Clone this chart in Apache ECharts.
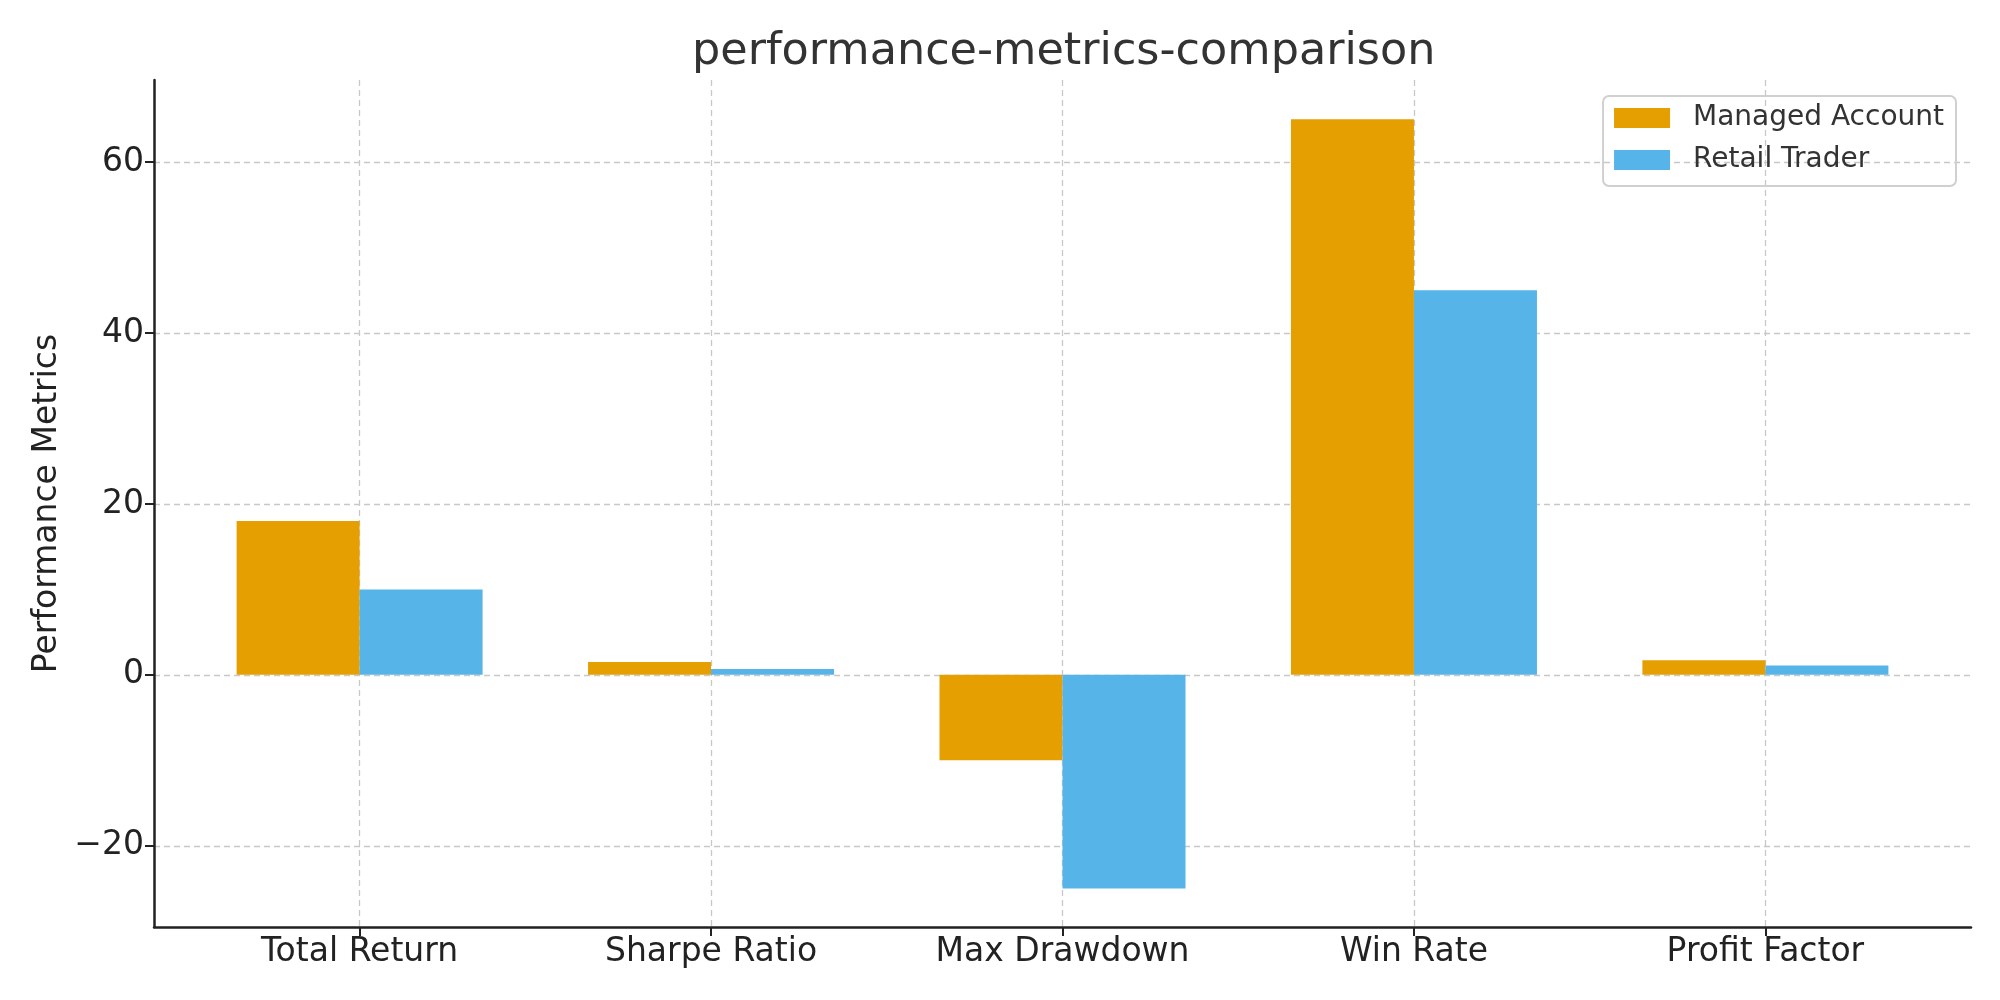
<!DOCTYPE html>
<html><head><meta charset="utf-8">
<script src="https://cdn.jsdelivr.net/npm/echarts@6/dist/echarts.min.js"></script>
<style>html,body{margin:0;padding:0;background:#fff}#c{width:2000px;height:1000px}</style>
</head><body><div id="c"></div>
<script>
const categories = ['Total Return', 'Sharpe Ratio', 'Max Drawdown', 'Win Rate', 'Profit Factor'];
const managedAccount = [18, 1.5, -10, 65, 1.7];
const retailTrader = [10, 0.7, -25, 45, 1.1];
const yTicks = [-20, 0, 20, 40, 60];
const seriesNames = ['Managed Account', 'Retail Trader'];

const FONT = 'DejaVu Sans';
const chart = echarts.init(document.getElementById('c'), null, {renderer: 'canvas'});
const idx = categories.map((_, i) => i);
chart.setOption({
  animation: false,
  textStyle: {fontFamily: FONT},
  title: {
    text: 'performance-metrics-comparison',
    left: 687, top: 25,
    textStyle: {fontFamily: FONT, fontSize: 44.5, fontWeight: 'normal', color: '#333'}
  },
  legend: {
    orient: 'vertical', right: 44, top: 96,
    icon: 'rect', itemWidth: 56, itemHeight: 20, itemGap: 14,
    padding: [8, 12, 12, 11],
    borderColor: '#d0d0d0', borderWidth: 2, borderRadius: 6,
    textStyle: {fontFamily: FONT, fontSize: 28, color: '#333', padding: [3, 0, 0, 18]}
  },
  grid: {left: 154, right: 29, top: 80, bottom: 73, containLabel: false},
  xAxis: {
    type: 'value', min: -0.585, max: 4.585,
    axisLine: {show: true, onZero: false, lineStyle: {color: '#222', width: 2.5}},
    axisTick: {show: true, length: 9, customValues: idx, lineStyle: {color: '#222', width: 2}},
    axisLabel: {customValues: idx, margin: 9, fontFamily: FONT, fontSize: 33, color: '#222',
      formatter: v => categories[Math.round(v)] || ''},
    splitLine: {show: true, lineStyle: {color: '#c8c8c8', type: [6, 4], width: 1.3}}
  },
  yAxis: {
    type: 'value', min: -29.5, max: 69.6,
    name: 'Performance Metrics', nameLocation: 'middle', nameGap: 90,
    nameTextStyle: {fontFamily: FONT, fontSize: 33, color: '#222'},
    axisLine: {show: true, onZero: false, lineStyle: {color: '#222', width: 2.5}},
    axisTick: {show: true, length: 9, customValues: yTicks, lineStyle: {color: '#222', width: 2}},
    axisLabel: {customValues: yTicks, margin: 10, fontFamily: FONT, fontSize: 33, color: '#222',
      formatter: v => (v < 0 ? '\u2212' + Math.abs(v) : String(v))},
    splitLine: {show: true, lineStyle: {color: '#c8c8c8', type: [6, 4], width: 1.3}}
  },
  series: [
    {name: seriesNames[0], type: 'bar', barWidth: 123, barGap: '0%',
     itemStyle: {color: '#E69F00'}, data: managedAccount.map((v, i) => [i, v])},
    {name: seriesNames[1], type: 'bar', barWidth: 123, barGap: '0%',
     itemStyle: {color: '#56B4E9'}, data: retailTrader.map((v, i) => [i, v])}
  ]
});
</script></body></html>
